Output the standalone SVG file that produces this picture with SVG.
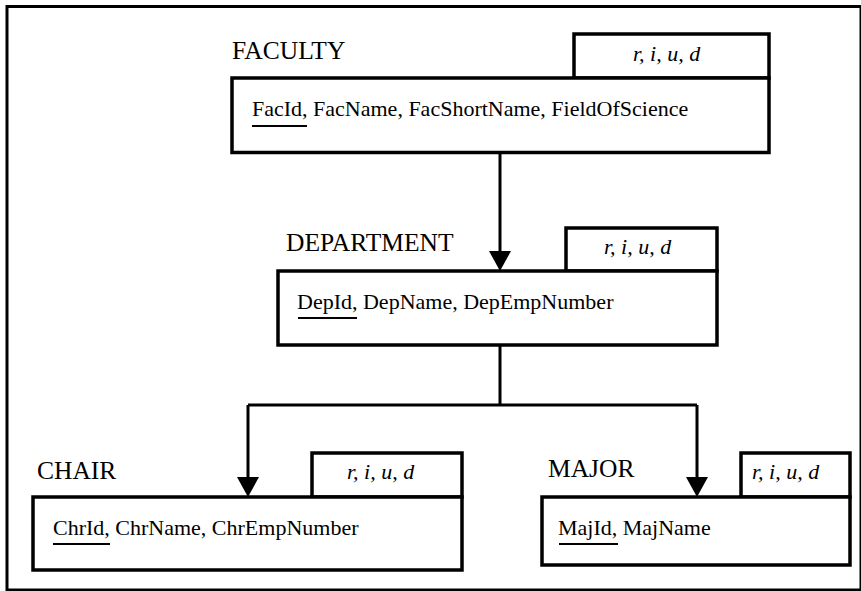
<svg xmlns="http://www.w3.org/2000/svg" width="861" height="591" viewBox="0 0 861 591">
<style>
.frame{fill:none;stroke:#000;stroke-width:3}
.box{fill:#fff;stroke:#000;stroke-width:3.5}
.conn{fill:none;stroke:#000;stroke-width:3}
.head{fill:#000;stroke:none}
.lbl{font-family:"Liberation Serif","Times New Roman",serif;font-size:25.5px;fill:#000}
.att{font-family:"Liberation Serif","Times New Roman",serif;font-size:22px;fill:#000}
.tag{font-family:"Liberation Serif","Times New Roman",serif;font-size:22px;font-style:italic;fill:#000}
.ul{stroke:#000;stroke-width:2}
</style>
<rect width="861" height="591" fill="#fff"/>
<rect class="frame" x="7" y="6.5" width="854" height="583.5"/>
<g id="connectors">
<path class="conn" d="M500,152 V253"/>
<polygon class="head" points="489,251 511,251 500,271"/>
<path class="conn" d="M500,345 V405 M248,405 H697 M248,405 V479 M697,405 V479"/>
<polygon class="head" points="237,477 259,477 248,497"/>
<polygon class="head" points="686,477 708,477 697,497"/>
</g>
<g id="faculty">
<text class="lbl" x="232" y="59">FACULTY</text>
<rect class="box" x="574" y="34" width="195" height="44"/>
<text class="tag" x="633" y="61">r, i, u, d</text>
<rect class="box" x="232" y="78" width="537" height="74.5"/>
<text class="att" x="252" y="116">FacId, FacName, FacShortName, FieldOfScience</text>
<line class="ul" x1="252" y1="126" x2="307" y2="126"/>
</g>
<g id="department">
<text class="lbl" x="286" y="251">DEPARTMENT</text>
<rect class="box" x="566" y="228" width="151" height="43"/>
<text class="tag" x="604" y="254">r, i, u, d</text>
<rect class="box" x="278" y="271" width="439" height="74"/>
<text class="att" x="297" y="309">DepId, DepName, DepEmpNumber</text>
<line class="ul" x1="298" y1="318" x2="357" y2="318"/>
</g>
<g id="chair">
<text class="lbl" x="37" y="479">CHAIR</text>
<rect class="box" x="312" y="453" width="150" height="44"/>
<text class="tag" x="347" y="479">r, i, u, d</text>
<rect class="box" x="33" y="497" width="429" height="73"/>
<text class="att" x="53" y="535">ChrId, ChrName, ChrEmpNumber</text>
<line class="ul" x1="53" y1="544" x2="110" y2="544"/>
</g>
<g id="major">
<text class="lbl" x="548" y="477">MAJOR</text>
<rect class="box" x="741" y="453" width="109" height="44"/>
<text class="tag" x="752" y="479">r, i, u, d</text>
<rect class="box" x="542" y="497" width="308" height="68"/>
<text class="att" x="558" y="535">MajId, MajName</text>
<line class="ul" x1="559" y1="544" x2="618" y2="544"/>
</g>
</svg>
